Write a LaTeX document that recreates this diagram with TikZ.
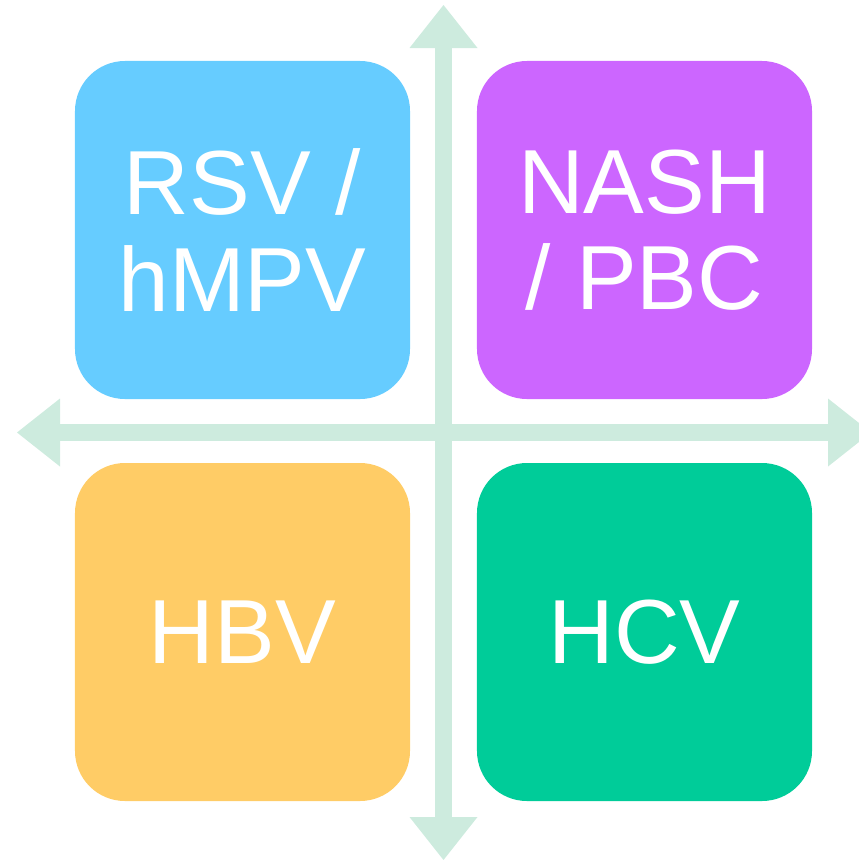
\documentclass[tikz,border=0pt]{standalone}
\usepackage{fontspec}
\setmainfont{Liberation Sans}
\usetikzlibrary{arrows.meta}
\definecolor{axisgreen}{HTML}{CDEBDE}
\definecolor{rsvblue}{HTML}{66CCFF}
\definecolor{nashpurple}{HTML}{CC66FF}
\definecolor{hbvorange}{HTML}{FFCC66}
\definecolor{hcvgreen}{HTML}{00CC99}
\tikzset{axis/.style={draw=axisgreen, line width=0.51cm,
    {Triangle[length=1.29cm, width=2.04cm, line width=0pt]}-{Triangle[length=1.29cm, width=2.04cm, line width=0pt]}},
  quad/.style={rounded corners=1.5cm, minimum width=10.05cm, minimum height=10.14cm,
    text=white, align=center, inner sep=0pt,
    font=\fontsize{77.7pt}{82pt}\selectfont}}

\begin{document}
\begin{tikzpicture}[x=0.03cm, y=-0.03cm]
  \useasboundingbox (0,0) rectangle (858,860);
  % axes
  \coordinate (top) at (443.5,5);
  \coordinate (bot) at (443.5,860);
  \coordinate (lft) at (17,432.5);
  \coordinate (rgt) at (871,432.5);
  \draw[axis] (bot) -- (top);
  \draw[axis] (lft) -- (rgt);
  % quadrants
  \node[quad, fill=rsvblue] (rsv) at (242.5,230) {RSV /\\hMPV};
  \node[quad, fill=nashpurple] (nash) at (644.5,230) {NASH\\/ PBC};
  \node[quad, fill=hbvorange] (hbv) at (242.5,632) {HBV};
  \node[quad, fill=hcvgreen] (hcv) at (644.5,632) {HCV};
\end{tikzpicture}
\end{document}
